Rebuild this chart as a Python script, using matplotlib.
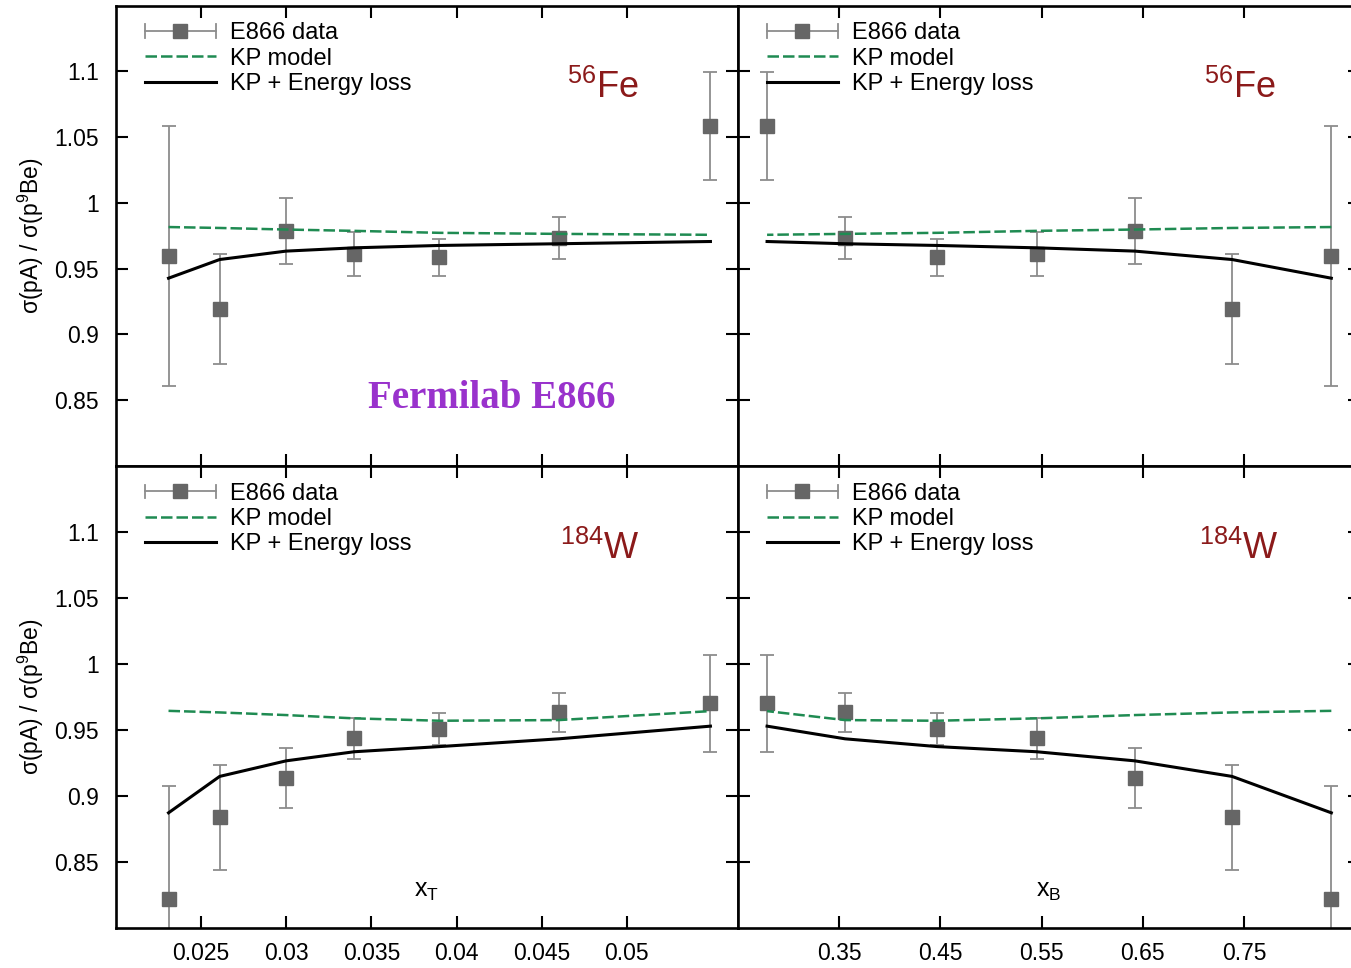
import matplotlib
matplotlib.use("Agg")
import matplotlib.pyplot as plt
from matplotlib.lines import Line2D
from matplotlib.legend_handler import HandlerBase
from matplotlib.ticker import FixedLocator, FuncFormatter

plt.rcParams['font.family'] = ['Liberation Sans', 'DejaVu Sans']
plt.rcParams['mathtext.fontset'] = 'custom'
plt.rcParams['mathtext.rm'] = 'Liberation Sans'
plt.rcParams['mathtext.it'] = 'Liberation Sans:italic'
plt.rcParams['mathtext.bf'] = 'Liberation Sans:bold'

# kinematic variables (same point order in both columns)
x_T = [0.0231, 0.0261, 0.0300, 0.0340, 0.0390, 0.0460, 0.0549]
x_B = [0.836, 0.738, 0.642, 0.545, 0.447, 0.356, 0.279]

# Fe / Be ratio
fe_data = [0.9596, 0.9194, 0.9786, 0.9613, 0.9588, 0.9735, 1.0585]
fe_err = [0.099, 0.042, 0.025, 0.017, 0.014, 0.016, 0.041]
fe_kp = [0.9817, 0.9810, 0.9798, 0.9788, 0.9773, 0.9765, 0.9758]
fe_eloss = [0.9428, 0.9570, 0.9634, 0.9659, 0.9677, 0.9690, 0.9707]

# W / Be ratio
w_data = [0.8217, 0.8836, 0.9132, 0.9435, 0.9503, 0.9632, 0.9700]
w_err = [0.0857, 0.0398, 0.0228, 0.0158, 0.0121, 0.0150, 0.0369]
w_kp = [0.9644, 0.9632, 0.9612, 0.9587, 0.9569, 0.9574, 0.9642]
w_eloss = [0.8871, 0.9147, 0.9265, 0.9334, 0.9373, 0.9432, 0.9528]

y_ticks = [0.85, 0.9, 0.95, 1.0, 1.05, 1.1]
xT_ticks = [0.025, 0.03, 0.035, 0.04, 0.045, 0.05]
xB_ticks = [0.35, 0.45, 0.55, 0.65, 0.75]

MARKER_C = '#666666'
ERR_C = '#8c8c8c'
KP_C = '#1f8b52'
NUC_C = '#8b1a1a'
FS = 16.5
LEG_FS = 17


class ErrorBarHandle(HandlerBase):
    """Horizontal error-bar glyph with end caps and a square marker."""
    def create_artists(self, legend, orig_handle, xdescent, ydescent,
                       width, height, fontsize, trans):
        y = height / 2 - ydescent
        x0 = -xdescent
        x1 = x0 + width
        cap = 4.8
        arts = [
            Line2D([x0, x1], [y, y], color=ERR_C, lw=1.3),
            Line2D([x0, x0], [y - cap, y + cap], color=ERR_C, lw=1.3),
            Line2D([x1, x1], [y - cap, y + cap], color=ERR_C, lw=1.3),
            Line2D([(x0 + x1) / 2], [y], marker='s', ms=9.4, color=MARKER_C,
                   mec=MARKER_C, ls='none'),
        ]
        for a in arts:
            a.set_transform(trans)
        return arts


fig = plt.figure(figsize=(13.51, 9.68), dpi=100)

L0, R0, W = 0.08564, 0.54604, 0.4604
rows = {'top': (0.5186, 0.4755), 'bot': (0.0416, 0.4770)}

panels = [
    ('top', 'left', x_T, fe_data, fe_err, fe_kp, fe_eloss, r'$^{56}$Fe', 0.725),
    ('top', 'right', x_B, fe_data, fe_err, fe_kp, fe_eloss, r'$^{56}$Fe', 0.750),
    ('bot', 'left', x_T, w_data, w_err, w_kp, w_eloss, r'$^{184}$W', 0.714),
    ('bot', 'right', x_B, w_data, w_err, w_kp, w_eloss, r'$^{184}$W', 0.741),
]

for row, col, xs, dat, err, kp, el, nuc, nx in panels:
    b, h = rows[row]
    ax = fig.add_axes([L0 if col == 'left' else R0, b, W, h])

    eb = ax.errorbar(xs, dat, yerr=err, fmt='s', ms=9.4, color=MARKER_C,
                     mec=MARKER_C, ecolor=ERR_C, elinewidth=1.3, capsize=5.0,
                     capthick=1.3, zorder=2)
    kp_line, = ax.plot(xs, kp, color=KP_C, lw=1.8, dashes=(4.6, 1.6), zorder=3)
    el_line, = ax.plot(xs, el, color='black', lw=2.2, zorder=4)

    ax.set_ylim(0.80, 1.15)
    if col == 'left':
        ax.set_xlim(0.02, 0.0565)
        ax.xaxis.set_major_locator(FixedLocator(xT_ticks))
    else:
        ax.set_xlim(0.25, 0.864)
        ax.xaxis.set_major_locator(FixedLocator(xB_ticks))
    ax.yaxis.set_major_locator(FixedLocator(y_ticks))
    fmt = FuncFormatter(lambda v, p: f'{v:g}')
    ax.xaxis.set_major_formatter(fmt)
    ax.yaxis.set_major_formatter(fmt)

    ax.tick_params(which='both', direction='in', length=8.5, width=1.5,
                   top=True, right=True, labelsize=FS, color='black')
    ax.tick_params(axis='y', pad=12)
    ax.tick_params(axis='x', pad=10.5)
    if row == 'top':
        ax.tick_params(labelbottom=False)
    if col == 'right':
        ax.tick_params(labelleft=False)
    for s in ax.spines.values():
        s.set_linewidth(1.9)
        s.set_color('black')

    if col == 'left':
        ax.set_ylabel(r'σ(pA) / σ(p$^{9}$Be)', fontsize=FS)
        ax.yaxis.set_label_coords(-0.112, 0.5)

    ax.legend([eb, kp_line, el_line], ['E866 data', 'KP model', 'KP + Energy loss'],
              handler_map={type(eb): ErrorBarHandle()},
              loc='upper left', bbox_to_anchor=(0.047, 0.964), borderaxespad=0,
              borderpad=0, frameon=False, fontsize=LEG_FS, handlelength=3.0,
              handletextpad=0.62, labelspacing=0.14)

    ax.text(nx, 0.799, nuc, transform=ax.transAxes, fontsize=26, color=NUC_C,
            ha='left', va='baseline')

    if row == 'bot':
        lab = r'$\mathregular{x_T}$' if col == 'left' else r'$\mathregular{x_B}$'
        ax.text(0.50, 0.067, lab, transform=ax.transAxes, fontsize=18,
                ha='center', va='baseline')

    if row == 'top' and col == 'left':
        ax.text(0.4055, 0.126, 'Fermilab E866', transform=ax.transAxes,
                fontsize=28, fontweight='bold', family='Liberation Serif',
                color='#9932CC', ha='left', va='baseline')

fig.savefig('out.png', dpi=100)
